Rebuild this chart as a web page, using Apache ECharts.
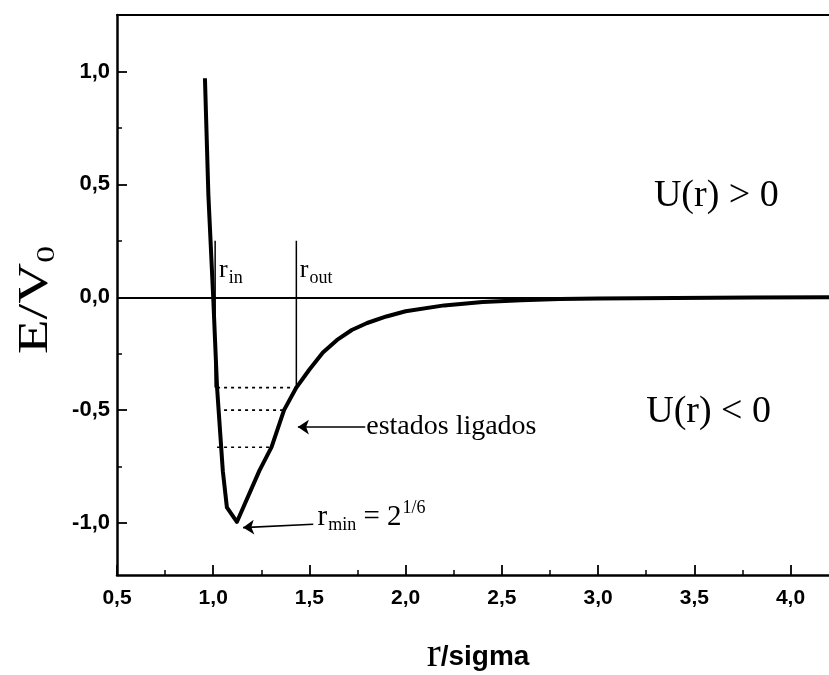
<!DOCTYPE html>
<html>
<head>
<meta charset="utf-8">
<script src="https://cdn.jsdelivr.net/npm/echarts@6/dist/echarts.min.js"></script>
<style>
  html, body { margin: 0; padding: 0; background: #fff; }
  #chart { width: 829px; height: 675px; }
</style>
</head>
<body>
<div id="chart"></div>
<script>
// Lennard-Jones style potential, E/V0 against r/sigma
const rValues = [0.957, 0.975, 1.0, 1.02, 1.05, 1.071, 1.123, 1.24, 1.303, 1.368, 1.432, 1.5, 1.57, 1.642, 1.72, 1.8, 1.9, 2.0, 2.2, 2.4, 2.6, 2.8, 3.0, 3.4, 3.8, 4.2];
const eValues = [0.97, 0.45, 0.0, -0.4, -0.77, -0.93, -0.995, -0.768, -0.664, -0.5, -0.4, -0.32, -0.245, -0.19, -0.145, -0.114, -0.085, -0.062, -0.036, -0.021, -0.013, -0.008, -0.006, -0.003, -0.001, 0.0];

// bound-state levels (dotted) and the turning-point markers
const levelE = [-0.4, -0.5, -0.664];
const levelStartR = 1.02;
const levelEndR = [1.432, 1.368, 1.303];
const rIn = 1.01;
const rOut = 1.432;
const markerTopE = 0.25;

// tick positions
const xMajorTicks = [0.5, 1.0, 1.5, 2.0, 2.5, 3.0, 3.5, 4.0];
const xMinorTicks = [0.75, 1.25, 1.75, 2.25, 2.75, 3.25, 3.75];
const yMajorTicks = [-1.0, -0.5, 0.0, 0.5, 1.0];
const yMinorTicks = [-0.75, -0.25, 0.25, 0.75];

const fmt = v => v.toFixed(1).replace('.', ',');

const chart = echarts.init(document.getElementById('chart'), null, { renderer: 'canvas' });

const serif = 'Liberation Serif, Times New Roman, serif';
const sans = 'Liberation Sans, Arial, sans-serif';

const labelRich = {
  r: { fontFamily: serif, fontSize: 26, color: '#000' },
  sub: { fontFamily: serif, fontSize: 18, color: '#000', padding: [16, 0, 0, 1] },
  sup: { fontFamily: serif, fontSize: 18, color: '#000', padding: [0, 0, 18, 1] },
  big: { fontFamily: serif, fontSize: 29, color: '#000' },
  txt: { fontFamily: serif, fontSize: 28, color: '#000' },
  u: { fontFamily: serif, fontSize: 38, color: '#000' }
};

const levelSeries = levelE.map((e, i) => ({
  type: 'line',
  data: [[levelStartR, e], [levelEndR[i], e]],
  symbol: 'none',
  lineStyle: { color: '#000', width: 1.6, type: [3, 4] },
  silent: true,
  z: 2
}));

const option = {
  animation: false,
  backgroundColor: '#fff',
  grid: { left: 117, right: 0, top: 15, bottom: 100 },
  xAxis: [
    {
      type: 'value', min: 0.5, max: 4.2, position: 'bottom',
      axisLine: { show: true, onZero: false, lineStyle: { color: '#000', width: 2.5 } },
      axisTick: { show: true, inside: true, length: 10, customValues: xMajorTicks, lineStyle: { color: '#000', width: 1.8 } },
      axisLabel: { show: true, customValues: xMajorTicks, formatter: fmt, margin: 13, color: '#000', fontFamily: sans, fontWeight: 'bold', fontSize: 21 },
      splitLine: { show: false }
    },
    {
      type: 'value', min: 0.5, max: 4.2, position: 'bottom',
      axisLine: { show: false, onZero: false },
      axisTick: { show: true, inside: true, length: 5, customValues: xMinorTicks, lineStyle: { color: '#000', width: 1.5 } },
      axisLabel: { show: false },
      splitLine: { show: false }
    },
    {
      type: 'value', min: 0.5, max: 4.2, position: 'top',
      axisLine: { show: true, onZero: false, lineStyle: { color: '#000', width: 2 } },
      axisTick: { show: false }, axisLabel: { show: false }, splitLine: { show: false }
    }
  ],
  yAxis: [
    {
      type: 'value', min: -1.23, max: 1.25, position: 'left',
      axisLine: { show: true, onZero: false, lineStyle: { color: '#000', width: 2.5 } },
      axisTick: { show: true, inside: true, length: 10, customValues: yMajorTicks, lineStyle: { color: '#000', width: 1.8 } },
      axisLabel: { show: true, customValues: yMajorTicks, formatter: fmt, margin: 7, color: '#000', fontFamily: sans, fontWeight: 'bold', fontSize: 22 },
      splitLine: { show: false }
    },
    {
      type: 'value', min: -1.23, max: 1.25, position: 'left',
      axisLine: { show: false, onZero: false },
      axisTick: { show: true, inside: true, length: 5, customValues: yMinorTicks, lineStyle: { color: '#000', width: 1.5 } },
      axisLabel: { show: false },
      splitLine: { show: false }
    }
  ],
  graphic: [
    {
      type: 'text', x: 36, y: 300, rotation: Math.PI / 2, scaleX: 1.35,
      style: {
        text: '{a|E/V}{b|0}', align: 'center', verticalAlign: 'middle',
        rich: {
          a: { fontFamily: serif, fontSize: 42, color: '#000' },
          b: { fontFamily: serif, fontSize: 25, color: '#000', padding: [22, 0, 0, 0] }
        }
      }
    },
    {
      type: 'text', x: 478, y: 655,
      style: {
        text: '{a|r}{b|/sigma}', align: 'center', verticalAlign: 'middle',
        rich: {
          a: { fontFamily: serif, fontSize: 42, color: '#000' },
          b: { fontFamily: 'Liberation Sans Narrow, Arial Narrow, ' + sans, fontWeight: 'bold', fontSize: 28, color: '#000', padding: [4, 0, 0, 0] }
        }
      }
    }
  ],
  series: [
    {
      type: 'line',
      data: rValues.map((r, i) => [r, eValues[i]]),
      symbol: 'none',
      smooth: false,
      lineStyle: { color: '#000', width: 4, join: 'round' },
      silent: true,
      z: 5,
      markLine: {
        silent: true, symbol: 'none', animation: false,
        label: { show: false },
        lineStyle: { color: '#000', width: 2, type: 'solid' },
        data: [{ yAxis: 0 }]
      }
    },
    {
      type: 'line',
      data: [[rIn, markerTopE], [rIn, levelE[0]]],
      symbol: 'none', lineStyle: { color: '#000', width: 1.5 }, silent: true, z: 3
    },
    {
      type: 'line',
      data: [[rOut, markerTopE], [rOut, levelE[0]]],
      symbol: 'none', lineStyle: { color: '#000', width: 1.5 }, silent: true, z: 3
    },
    ...levelSeries,
    {
      type: 'scatter',
      symbolSize: 0,
      silent: true,
      z: 6,
      itemStyle: { opacity: 1 },
      label: { show: true, position: 'right', distance: 0, color: '#000', opacity: 1, rich: labelRich },
      labelLayout: { hideOverlap: false },
      data: [
        { value: [1.03, 0.12], label: { formatter: '{r|r}{sub|in}' } },
        { value: [1.45, 0.12], label: { formatter: '{r|r}{sub|out}' } },
        { value: [1.795, -0.571], label: { formatter: '{txt|estados ligados}' } },
        { value: [1.542, -0.975], label: { formatter: '{big|r}{sub|min}{big| = 2}{sup|1/6}' } },
        { value: [3.29, 0.45], label: { formatter: '{u|U(r) > 0}' } },
        { value: [3.25, -0.51], label: { formatter: '{u|U(r) < 0}' } }
      ],
      markLine: {
        silent: true, animation: false,
        label: { show: false },
        symbol: ['none', 'arrow'],
        symbolSize: 11,
        lineStyle: { color: '#000', width: 1.6, type: 'solid', opacity: 1 },
        data: [
          [{ coord: [1.79, -0.575] }, { coord: [1.44, -0.575] }],
          [{ coord: [1.52, -1.005], lineStyle: { curveness: -0.08 } }, { coord: [1.155, -1.02] }]
        ]
      }
    }
  ]
};

chart.setOption(option);
</script>
</body>
</html>
